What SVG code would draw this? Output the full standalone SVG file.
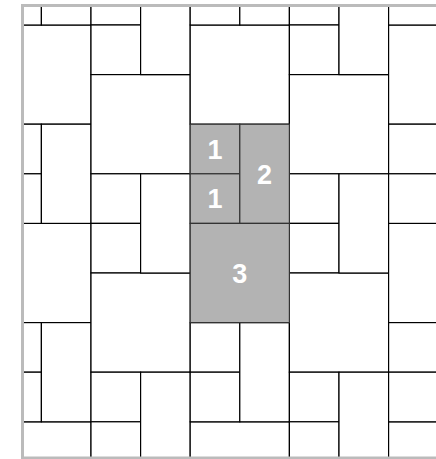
<svg xmlns="http://www.w3.org/2000/svg" width="436" height="459" viewBox="0 0 436 459">
<style>
.t{fill:#ffffff;stroke:#000000;stroke-width:1.2}
.g{fill:#b3b3b3;stroke:#333333;stroke-width:1.2}
.lbl{font-family:"Liberation Sans",Arial,Helvetica,sans-serif;font-weight:bold;font-size:27px;fill:#ffffff;text-anchor:middle;dominant-baseline:central}
</style>
<defs>
<clipPath id="frame"><rect x="22" y="5" width="420" height="453"/></clipPath>
</defs>
<rect x="0" y="0" width="436" height="459" fill="#ffffff"/>
<g id="tiles" clip-path="url(#frame)">
<!-- column 0 -->
<rect class="t" x="-8.2" y="25" width="99.2" height="99.2"/>
<rect class="t" x="-8.2" y="223.4" width="99.2" height="99.2"/>
<rect class="t" x="-8.2" y="421.8" width="99.2" height="99.2"/>
<rect class="t" x="-8.2" y="-24.6" width="49.6" height="49.6"/>
<rect class="t" x="-8.2" y="124.2" width="49.6" height="49.6"/>
<rect class="t" x="-8.2" y="173.8" width="49.6" height="49.6"/>
<rect class="t" x="-8.2" y="322.6" width="49.6" height="49.6"/>
<rect class="t" x="-8.2" y="372.2" width="49.6" height="49.6"/>
<!-- column 1 -->
<rect class="t" x="41.4" y="-74.2" width="49.6" height="99.2"/>
<rect class="t" x="41.4" y="124.2" width="49.6" height="99.2"/>
<rect class="t" x="41.4" y="322.6" width="49.6" height="99.2"/>
<!-- column 2 -->
<rect class="t" x="91" y="-24.6" width="49.6" height="49.6"/>
<rect class="t" x="91" y="25" width="49.6" height="49.6"/>
<rect class="t" x="91" y="74.6" width="99.2" height="99.2"/>
<rect class="t" x="91" y="173.8" width="49.6" height="49.6"/>
<rect class="t" x="91" y="223.4" width="49.6" height="49.6"/>
<rect class="t" x="91" y="273" width="99.2" height="99.2"/>
<rect class="t" x="91" y="372.2" width="49.6" height="49.6"/>
<rect class="t" x="91" y="421.8" width="49.6" height="49.6"/>
<!-- column 3 -->
<rect class="t" x="140.6" y="-24.6" width="49.6" height="99.2"/>
<rect class="t" x="140.6" y="173.8" width="49.6" height="99.2"/>
<rect class="t" x="140.6" y="372.2" width="49.6" height="99.2"/>
<!-- column 4 -->
<rect class="t" x="190.2" y="25" width="99.2" height="99.2"/>
<rect class="t" x="190.2" y="421.8" width="99.2" height="99.2"/>
<rect class="t" x="190.2" y="-24.6" width="49.6" height="49.6"/>
<rect class="t" x="190.2" y="322.6" width="49.6" height="49.6"/>
<rect class="t" x="190.2" y="372.2" width="49.6" height="49.6"/>
<!-- column 5 -->
<rect class="t" x="239.8" y="-74.2" width="49.6" height="99.2"/>
<rect class="t" x="239.8" y="322.6" width="49.6" height="99.2"/>
<!-- column 6 -->
<rect class="t" x="289.4" y="-24.6" width="49.6" height="49.6"/>
<rect class="t" x="289.4" y="25" width="49.6" height="49.6"/>
<rect class="t" x="289.4" y="74.6" width="99.2" height="99.2"/>
<rect class="t" x="289.4" y="173.8" width="49.6" height="49.6"/>
<rect class="t" x="289.4" y="223.4" width="49.6" height="49.6"/>
<rect class="t" x="289.4" y="273" width="99.2" height="99.2"/>
<rect class="t" x="289.4" y="372.2" width="49.6" height="49.6"/>
<rect class="t" x="289.4" y="421.8" width="49.6" height="49.6"/>
<!-- column 7 -->
<rect class="t" x="339" y="-24.6" width="49.6" height="99.2"/>
<rect class="t" x="339" y="173.8" width="49.6" height="99.2"/>
<rect class="t" x="339" y="372.2" width="49.6" height="99.2"/>
<!-- column 8 -->
<rect class="t" x="388.6" y="25" width="99.2" height="99.2"/>
<rect class="t" x="388.6" y="223.4" width="99.2" height="99.2"/>
<rect class="t" x="388.6" y="421.8" width="99.2" height="99.2"/>
<rect class="t" x="388.6" y="-24.6" width="49.6" height="49.6"/>
<rect class="t" x="388.6" y="124.2" width="49.6" height="49.6"/>
<rect class="t" x="388.6" y="173.8" width="49.6" height="49.6"/>
<rect class="t" x="388.6" y="322.6" width="49.6" height="49.6"/>
<rect class="t" x="388.6" y="372.2" width="49.6" height="49.6"/>
</g>
<g id="tile-1a"><rect class="g" x="190.2" y="124.2" width="49.6" height="49.6"/><text class="lbl" x="215" y="149.5">1</text></g>
<g id="tile-1b"><rect class="g" x="190.2" y="173.8" width="49.6" height="49.6"/><text class="lbl" x="215" y="199">1</text></g>
<g id="tile-2"><rect class="g" x="239.8" y="124.2" width="49.6" height="99.2"/><text class="lbl" x="264.6" y="174.5">2</text></g>
<g id="tile-3"><rect class="g" x="190.2" y="223.4" width="99.2" height="99.2"/><text class="lbl" x="239.8" y="273.5">3</text></g>
<rect id="frame-border" x="22.5" y="5.5" width="430" height="452.5" fill="none" stroke="#bbbbbb" stroke-width="3"/>
</svg>
